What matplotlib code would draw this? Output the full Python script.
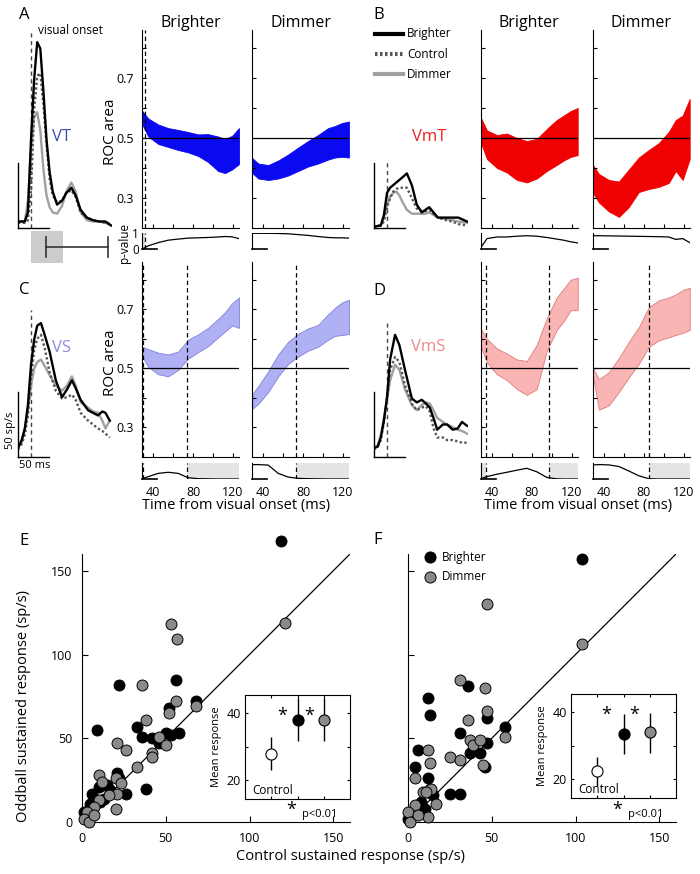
import matplotlib
matplotlib.use("Agg")
import matplotlib.pyplot as plt
from matplotlib.lines import Line2D

plt.rcParams['font.family'] = ['Open Sans', 'DejaVu Sans']

W, H = 700, 874

# ---------------- PSTHs (sp/s), time in ms from visual onset ----------------
A_T = [-21, -10, -5, 0, 5, 10, 15, 20, 25, 30, 35, 42, 50, 57, 65, 72, 80, 90, 100, 110, 120, 129]
A_BRIGHT = [5, 5, 12, 68, 114, 143, 138, 105, 68, 43, 28, 18, 21, 27, 31, 25, 14, 8, 6, 5, 5, 2]
A_CTRL = [4, 4, 6, 29, 91, 117, 119, 95, 64, 38, 25, 20, 21, 27, 29, 24, 12, 8, 6, 5, 4, 3]
A_DIM = [5, 5, 21, 60, 85, 89, 75, 45, 25, 16, 12, 11, 17, 28, 35, 28, 12, 6, 5, 5, 4, 2]

B_T = [-21, -10, -5, 0, 5, 10, 15, 20, 25, 32, 40, 48, 56, 62, 68, 75, 82, 95, 105, 115, 129]
B_BRIGHT = [1, 2, 10, 27, 31, 33, 35, 37, 39, 42, 33, 18, 12, 14, 16, 12, 8, 8, 8, 8, 5]
B_CTRL = [1, 2, 5, 16, 23, 28, 30, 31, 31, 31, 23, 15, 13, 13, 14, 11, 8, 6, 5, 3, 2]
B_DIM = [1, 2, 8, 18, 24, 27, 28, 25, 20, 14, 11, 11, 11, 11, 12, 10, 8, 7, 6, 5, 4]

C_T = [-21, -15, -10, -5, 0, 5, 10, 16, 22, 30, 40, 50, 58, 66, 72, 80, 92, 100, 108, 115, 120, 127]
C_BRIGHT = [7, 13, 22, 40, 71, 90, 101, 103, 94, 81, 59, 46, 52, 59, 53, 44, 36, 34, 32, 35, 34, 28]
C_CTRL = [6, 10, 17, 32, 61, 82, 91, 94, 84, 65, 51, 45, 46, 48, 44, 34, 28, 25, 22, 20, 18, 15]
C_DIM = [7, 12, 21, 36, 55, 68, 73, 75, 70, 63, 55, 51, 55, 62, 55, 42, 38, 35, 34, 28, 22, 28]

D_T = [-21, -15, -10, -5, 0, 5, 13, 20, 29, 40, 48, 56, 63, 69, 75, 81, 90, 97, 106, 114, 121, 129]
D_BRIGHT = [7, 8, 15, 28, 46, 75, 94, 86, 67, 45, 42, 44, 41, 38, 30, 21, 25, 25, 21, 22, 27, 24]
D_CTRL = [6, 8, 13, 27, 45, 67, 77, 73, 55, 41, 36, 38, 39, 35, 22, 15, 15, 13, 13, 12, 11, 11]
D_DIM = [7, 9, 17, 30, 44, 59, 71, 67, 52, 40, 36, 40, 42, 41, 36, 30, 27, 25, 23, 21, 20, 18]

LAT_BOX = [0, 52]      # latency window under panel A
LAT_BAR = [24, 124]

# ---------------- ROC bands ----------------
ROC_T = [29, 35, 45, 55, 65, 75, 85, 95, 105, 112, 119, 126]

A_BRI_HI = [0.59, 0.565, 0.545, 0.533, 0.527, 0.52, 0.512, 0.513, 0.505, 0.497, 0.507, 0.533]
A_BRI_LO = [0.545, 0.505, 0.48, 0.47, 0.46, 0.452, 0.44, 0.42, 0.39, 0.383, 0.395, 0.413]
A_DIM_HI = [0.433, 0.415, 0.41, 0.425, 0.445, 0.468, 0.49, 0.51, 0.533, 0.54, 0.55, 0.555]
A_DIM_LO = [0.383, 0.365, 0.36, 0.365, 0.375, 0.39, 0.405, 0.415, 0.428, 0.435, 0.437, 0.435]
B_BRI_HI = [0.567, 0.525, 0.51, 0.515, 0.5, 0.49, 0.497, 0.53, 0.56, 0.575, 0.59, 0.6]
B_BRI_LO = [0.483, 0.43, 0.4, 0.385, 0.36, 0.352, 0.365, 0.39, 0.41, 0.425, 0.437, 0.443]
B_DIM_HI = [0.41, 0.38, 0.36, 0.355, 0.395, 0.435, 0.46, 0.483, 0.52, 0.56, 0.575, 0.63]
B_DIM_LO = [0.317, 0.285, 0.255, 0.237, 0.27, 0.32, 0.33, 0.337, 0.35, 0.39, 0.36, 0.43]
C_BRI_HI = [0.573, 0.565, 0.553, 0.547, 0.557, 0.597, 0.615, 0.637, 0.667, 0.69, 0.72, 0.74]
C_BRI_LO = [0.54, 0.505, 0.48, 0.473, 0.495, 0.533, 0.555, 0.575, 0.605, 0.625, 0.645, 0.637]
C_DIM_HI = [0.413, 0.44, 0.49, 0.547, 0.59, 0.617, 0.635, 0.647, 0.683, 0.705, 0.723, 0.732]
C_DIM_LO = [0.363, 0.38, 0.42, 0.473, 0.515, 0.54, 0.56, 0.573, 0.597, 0.61, 0.613, 0.616]
D_BRI_HI = [0.633, 0.6, 0.567, 0.55, 0.53, 0.525, 0.58, 0.67, 0.74, 0.77, 0.8, 0.807]
D_BRI_LO = [0.573, 0.52, 0.48, 0.46, 0.43, 0.41, 0.43, 0.56, 0.63, 0.66, 0.697, 0.697]
D_DIM_HI = [0.5, 0.463, 0.487, 0.535, 0.59, 0.64, 0.707, 0.73, 0.74, 0.75, 0.765, 0.773]
D_DIM_LO = [0.473, 0.36, 0.375, 0.42, 0.47, 0.515, 0.573, 0.595, 0.605, 0.613, 0.62, 0.63]

# p-values under each ROC panel
A_BRI_P = [0.0, 0.2, 0.4, 0.55, 0.62, 0.68, 0.7, 0.72, 0.75, 0.78, 0.76, 0.65]
A_DIM_P = [0.98, 0.98, 0.98, 0.97, 0.95, 0.9, 0.85, 0.78, 0.72, 0.7, 0.7, 0.68]
B_BRI_P = [0.1, 0.65, 0.75, 0.75, 0.8, 0.83, 0.8, 0.72, 0.62, 0.55, 0.45, 0.38]
B_DIM_P = [0.83, 0.83, 0.82, 0.81, 0.8, 0.79, 0.78, 0.77, 0.75, 0.6, 0.65, 0.4]
C_BRI_P = [0.02, 0.15, 0.35, 0.42, 0.35, 0.08, 0.02, 0.01, 0.0, 0.0, 0.0, 0.0]
C_DIM_P = [0.9, 0.9, 0.87, 0.35, 0.12, 0.04, 0.02, 0.01, 0.0, 0.0, 0.0, 0.0]
D_BRI_P = [0.02, 0.15, 0.3, 0.42, 0.55, 0.67, 0.45, 0.1, 0.01, 0.0, 0.0, 0.0]
D_DIM_P = [0.88, 0.9, 0.88, 0.78, 0.5, 0.2, 0.02, 0.0, 0.0, 0.0, 0.0, 0.0]

# window boundaries (ms) and shaded significance spans
A_BRI_DASH, A_BRI_SHADE = [31.8], [(28.7, 31.8)]
C_BRI_DASH, C_BRI_SHADE = [29.7, 73.8], [(28.7, 29.7), (73.8, 126)]
C_DIM_DASH, C_DIM_SHADE = [72.5], [(72.5, 126)]
D_BRI_DASH, D_BRI_SHADE = [34.1, 97.7], [(28.7, 34.1), (97.7, 126)]
D_DIM_DASH, D_DIM_SHADE = [85], [(85, 126)]

# ---------------- scatter (sp/s) ----------------
E_BRI_X = [22, 56, 9, 33, 52, 68, 36, 42, 50, 53, 58, 46, 38, 26, 21, 22, 6, 10, 15, 13, 17, 1, 5, 11, 7, 119]
E_BRI_Y = [82, 85, 55, 57, 68, 72, 51, 50, 53, 52, 53, 47, 20, 17, 29, 26, 17, 21, 22, 14, 19, 6, 11, 12, 14, 168]
E_DIM_X = [57, 36, 56, 52, 38, 68, 21, 26, 46, 50, 42, 42, 33, 10, 20, 12, 23, 21, 16, 10, 7, 20, 3, 1, 4, 7, 53, 121]
E_DIM_Y = [109, 82, 72, 65, 61, 69, 47, 43, 51, 46, 41, 39, 33, 28, 26, 24, 23, 17, 16, 13, 9, 8, 6, 2, 0, 4, 118, 119]

F_BRI_X = [12, 13, 36, 47, 58, 31, 47, 6, 37, 43, 46, 4, 12, 31, 25, 15, 12, 8, 10, 3, 0, 104]
F_BRI_Y = [74, 64, 81, 62, 57, 53, 47, 43, 41, 41, 33, 33, 26, 17, 17, 16, 18, 12, 8, 5, 2, 157]
F_DIM_X = [31, 46, 47, 36, 25, 31, 37, 39, 43, 58, 45, 12, 13, 4, 9, 13, 14, 11, 17, 4, 12, 0, 1, 6, 47, 104]
F_DIM_Y = [85, 80, 66, 61, 39, 37, 49, 46, 49, 51, 34, 43, 35, 26, 18, 20, 20, 18, 11, 10, 3, 6, 0, 4, 130, 106]

INSET_POS = [1, 2, 3]
INSET_COLORS = ['white', 'black', '#8a8a8a']
E_MEAN, E_LO, E_HI = [28, 38, 38], [23.2, 31.7, 31.7], [32.9, 44.4, 44.4]
F_MEAN, F_LO, F_HI = [22.4, 33.5, 34.1], [18.2, 27.6, 27.9], [26.7, 39.4, 39.9]

VT_COL, VMT_COL = '#0a0af0', '#f00000'
VS_COL, VS_EDGE = '#b0b0f5', '#8080d8'
VMS_COL, VMS_EDGE = '#f9b4b4', '#e07a7a'
DIM_GRAY = '#a0a0a0'
CTRL_GRAY = '#555555'
DOT_GRAY = '#8a8a8a'


def px_axes(fig, left, top, right, bottom):
    """axes placed by pixel box (top-left origin)"""
    return fig.add_axes([left / W, 1 - bottom / H, (right - left) / W, (bottom - top) / H])


def ftext(fig, x, y, s, **kw):
    fig.text(x / W, 1 - y / H, s, **kw)


fig = plt.figure(figsize=(W / 100, H / 100), dpi=100)

# ---------------- PSTH panels ----------------
psth_panels = [
    # left, top, bottom, t, bright, ctrl, dim, onset dash height
    (18, 30, 228, A_T, A_BRIGHT, A_CTRL, A_DIM, 152),
    (374, 30, 228, B_T, B_BRIGHT, B_CTRL, B_DIM, 51),
    (18, 262, 457, C_T, C_BRIGHT, C_CTRL, C_DIM, 113),
    (374, 262, 457, D_T, D_BRIGHT, D_CTRL, D_DIM, 103),
]
for left, top, bottom, t, bri, ctl, dim, dash_h in psth_panels:
    ax = px_axes(fig, left, top, left + 94, bottom)
    ax.set_xlim(-21, -21 + 94 / 0.62)
    ax.set_ylim(0, (bottom - top) / 1.3)
    ax.axis('off')
    ax.plot([0, 0], [0, dash_h], color='#444444', ls=(0, (3, 2.5)), lw=1.0)
    ax.plot(t, dim, color=DIM_GRAY, lw=1.7)
    ax.plot(t, ctl, color=CTRL_GRAY, lw=1.7, ls=(0, (1, 1)))
    ax.plot(t, bri, color='k', lw=1.7)
    # scale bars: 50 sp/s, 50 ms
    ax.plot([-21, -21], [0, 50], color='k', lw=1.0, clip_on=False)
    ax.plot([-21, 29], [0, 0], color='k', lw=1.0, clip_on=False)

# latency box under A
lat = px_axes(fig, 18, 231, 112, 263)
lat.set_xlim(-21, -21 + 94 / 0.62)
lat.set_ylim(0, 1)
lat.axis('off')
lat.axvspan(LAT_BOX[0], LAT_BOX[1], color='#cccccc', lw=0)
lat.plot(LAT_BAR, [0.5, 0.5], color='#333333', lw=1.2)
for xb in LAT_BAR:
    lat.plot([xb, xb], [0.2, 0.8], color='#333333', lw=1.2)

# ---------------- ROC panels ----------------
ROC_W = 97
ROC_XLIM = (28.7, 126)
ROWS = {0: (30, 228, 233, 249), 1: (262, 457, 463, 479)}
roc_panels = [
    # left, row, lo, hi, face, edge, dashes, shades, p, y labels
    (142, 0, A_BRI_LO, A_BRI_HI, VT_COL, VT_COL, A_BRI_DASH, A_BRI_SHADE, A_BRI_P, True),
    (252, 0, A_DIM_LO, A_DIM_HI, VT_COL, VT_COL, [], [], A_DIM_P, False),
    (480.7, 0, B_BRI_LO, B_BRI_HI, VMT_COL, VMT_COL, [], [], B_BRI_P, False),
    (592.7, 0, B_DIM_LO, B_DIM_HI, VMT_COL, VMT_COL, [], [], B_DIM_P, False),
    (142, 1, C_BRI_LO, C_BRI_HI, VS_COL, VS_EDGE, C_BRI_DASH, C_BRI_SHADE, C_BRI_P, True),
    (252, 1, C_DIM_LO, C_DIM_HI, VS_COL, VS_EDGE, C_DIM_DASH, C_DIM_SHADE, C_DIM_P, False),
    (480.7, 1, D_BRI_LO, D_BRI_HI, VMS_COL, VMS_EDGE, D_BRI_DASH, D_BRI_SHADE, D_BRI_P, False),
    (592.7, 1, D_DIM_LO, D_DIM_HI, VMS_COL, VMS_EDGE, D_DIM_DASH, D_DIM_SHADE, D_DIM_P, False),
]
for left, row, lo, hi, face, edge, dashes, shades, pv, ylab in roc_panels:
    top, bot, stop, sbot = ROWS[row]
    ax = px_axes(fig, left, top, left + ROC_W, bot)
    ax.fill_between(ROC_T, lo, hi, facecolor=face, edgecolor=edge, lw=0.6)
    ax.axhline(0.5, color='k', lw=0.9)
    for d in dashes:
        ax.axvline(d, color='k', ls=(0, (3.5, 2.5)), lw=0.9)
    ax.set_xlim(ROC_XLIM)
    ax.set_ylim(0.2, 0.86)
    ax.spines[['top', 'right']].set_visible(False)
    ax.set_yticks([0.3, 0.4, 0.5, 0.6, 0.7, 0.8])
    ax.set_yticklabels(['0.3', '', '0.5', '', '0.7', ''] if ylab else [])
    ax.set_xticks([40, 60, 80, 100, 120])
    ax.set_xticklabels([])
    ax.tick_params(direction='in', length=3, width=0.8, labelsize=9, pad=6)
    if ylab:
        ftext(fig, 110, (top + bot) / 2 + 3, 'ROC area', fontsize=11,
              rotation=90, ha='center', va='center')

    sax = px_axes(fig, left, stop, left + ROC_W, sbot)
    for a, b in shades:
        sax.axvspan(a, b, color='#d8d8d8' if row == 0 else '#e4e4e4', lw=0)
    for d in dashes:
        sax.axvline(d, color='k', ls=(0, (3.5, 2.5)), lw=0.9)
    sax.plot(ROC_T, pv, color='k', lw=0.9)
    sax.plot([28.7, 44], [0, 0], color='k', lw=1.2, clip_on=False)
    sax.set_xlim(ROC_XLIM)
    sax.set_ylim(0, 1)
    sax.spines[['top', 'right', 'bottom']].set_visible(False)
    sax.set_yticks([0, 1])
    sax.set_yticklabels(['0', '1'] if (ylab and row == 0) else [])
    sax.tick_params(axis='y', length=0, labelsize=8.5, pad=2)
    if row == 1:
        sax.set_xticks([40, 80, 120])
        sax.tick_params(axis='x', length=0, labelsize=9, pad=5)
    else:
        sax.set_xticks([])
    if ylab and row == 0:
        ftext(fig, 125, 243, 'p-value', fontsize=8.5, rotation=90, ha='center', va='center')


# ---------------- scatter panels ----------------
def scatter_panel(left, bx, by, dx, dy, ylabels):
    ax = px_axes(fig, left, 554, left + 268, 822)
    ax.plot([0, 160], [0, 160], color='k', lw=0.9)
    ax.scatter(bx, by, s=62, c='k', edgecolors='k', linewidths=0.7, clip_on=False, zorder=3)
    ax.scatter(dx, dy, s=62, c=DOT_GRAY, edgecolors='k', linewidths=0.7, clip_on=False, zorder=3)
    ax.set_xlim(0, 160)
    ax.set_ylim(0, 160)
    ax.spines[['top', 'right']].set_visible(False)
    ax.set_xticks([0, 50, 100, 150])
    ax.set_yticks([0, 50, 100, 150])
    if not ylabels:
        ax.set_yticklabels([])
    ax.tick_params(direction='in', length=4, width=0.8, labelsize=9, pad=7)
    return ax


def inset_panel(left, top, right, bottom, mean, lo, hi, star_x, star_px):
    ax = px_axes(fig, left, top, right, bottom)
    for xi, m, l, h, c in zip(INSET_POS, mean, lo, hi, INSET_COLORS):
        ax.errorbar([xi], [m], yerr=[[m - l], [h - m]], fmt='o', ms=8, mfc=c, mec='k',
                    ecolor='k', elinewidth=1.0, capsize=0, mew=0.8)
    ax.set_xlim(0, 4)
    ax.set_ylim(14.5, 45.4)
    ax.set_xticks(INSET_POS)
    ax.set_xticklabels([])
    ax.set_yticks([20, 30, 40])
    ax.set_yticklabels(['20', '', '40'])
    ax.tick_params(direction='in', length=2.5, width=0.8, labelsize=9, pad=3,
                   top=True, right=True)
    ax.set_ylabel('Mean response', fontsize=8, labelpad=3)
    ax.text(0.07, 0.08, 'Control', transform=ax.transAxes, fontsize=8.5, va='center')
    for sx in star_x:
        ax.text(sx, 39.2, '*', fontsize=13, ha='center', va='center')
    ftext(fig, star_px, 810, '*', fontsize=13, ha='center', va='center')
    ftext(fig, star_px + 11, 815, 'p<0.01', fontsize=8, va='center')


axE = scatter_panel(82, E_BRI_X, E_BRI_Y, E_DIM_X, E_DIM_Y, True)
inset_panel(245, 695, 350, 799, E_MEAN, E_LO, E_HI, [1.42, 2.45], 291)
axF = scatter_panel(408, F_BRI_X, F_BRI_Y, F_DIM_X, F_DIM_Y, False)
inset_panel(571, 694, 676, 798, F_MEAN, F_LO, F_HI, [1.33, 2.41], 617)

# ---------------- text ----------------
for lab, x, y in [('A', 19, 15), ('B', 373, 15), ('C', 19, 290),
                  ('D', 373, 291), ('E', 19, 541), ('F', 373, 540)]:
    ftext(fig, x, y, lab, fontsize=12, va='center')

for cx, title in [(190.5, 'Brighter'), (300.5, 'Dimmer'), (529.2, 'Brighter'), (641.2, 'Dimmer')]:
    ftext(fig, cx, 23, title, fontsize=11.5, ha='center', va='center')

ftext(fig, 38, 31, 'visual onset', fontsize=8.5, va='center')
ftext(fig, 62, 137, 'VT', fontsize=12, color='#3c50b4', ha='center', va='center')
ftext(fig, 429, 137, 'VmT', fontsize=12, color='#ee2020', ha='center', va='center')
ftext(fig, 62, 348, 'VS', fontsize=12, color='#8c8ce0', ha='center', va='center')
ftext(fig, 428, 347, 'VmS', fontsize=12, color='#f08888', ha='center', va='center')
ftext(fig, 10, 430, '50 sp/s', fontsize=8, rotation=90, ha='center', va='center')
ftext(fig, 35, 466, '50 ms', fontsize=8, ha='center', va='center')

ftext(fig, 236, 506, 'Time from visual onset (ms)', fontsize=10.5, ha='center', va='center')
ftext(fig, 578, 506, 'Time from visual onset (ms)', fontsize=10.5, ha='center', va='center')
ftext(fig, 24, 706, 'Oddball sustained response (sp/s)', fontsize=10.5,
      rotation=90, ha='center', va='center')
ftext(fig, 350, 857, 'Control sustained response (sp/s)', fontsize=10.5, ha='center', va='center')

# legend for PSTHs (panel B)
leg_styles = [('Brighter', dict(color='k', lw=3)),
              ('Control', dict(color=CTRL_GRAY, lw=3, ls=(0, (0.6, 0.6)))),
              ('Dimmer', dict(color=DIM_GRAY, lw=3))]
for i, (name, st) in enumerate(leg_styles):
    y = 34 + 20 * i
    fig.add_artist(Line2D([375 / W, 403 / W], [1 - y / H, 1 - y / H], **st))
    ftext(fig, 407, y, name, fontsize=8.5, va='center')

# legend for scatter (panel F)
for i, (name, c) in enumerate([('Brighter', 'k'), ('Dimmer', DOT_GRAY)]):
    y = 557 + 19.5 * i
    fig.add_artist(Line2D([430 / W], [1 - y / H], marker='o', ms=8, mfc=c, mec='k', mew=0.7, ls='none'))
    ftext(fig, 442, y, name, fontsize=8.5, va='center')

fig.savefig('out.png', dpi=100)
